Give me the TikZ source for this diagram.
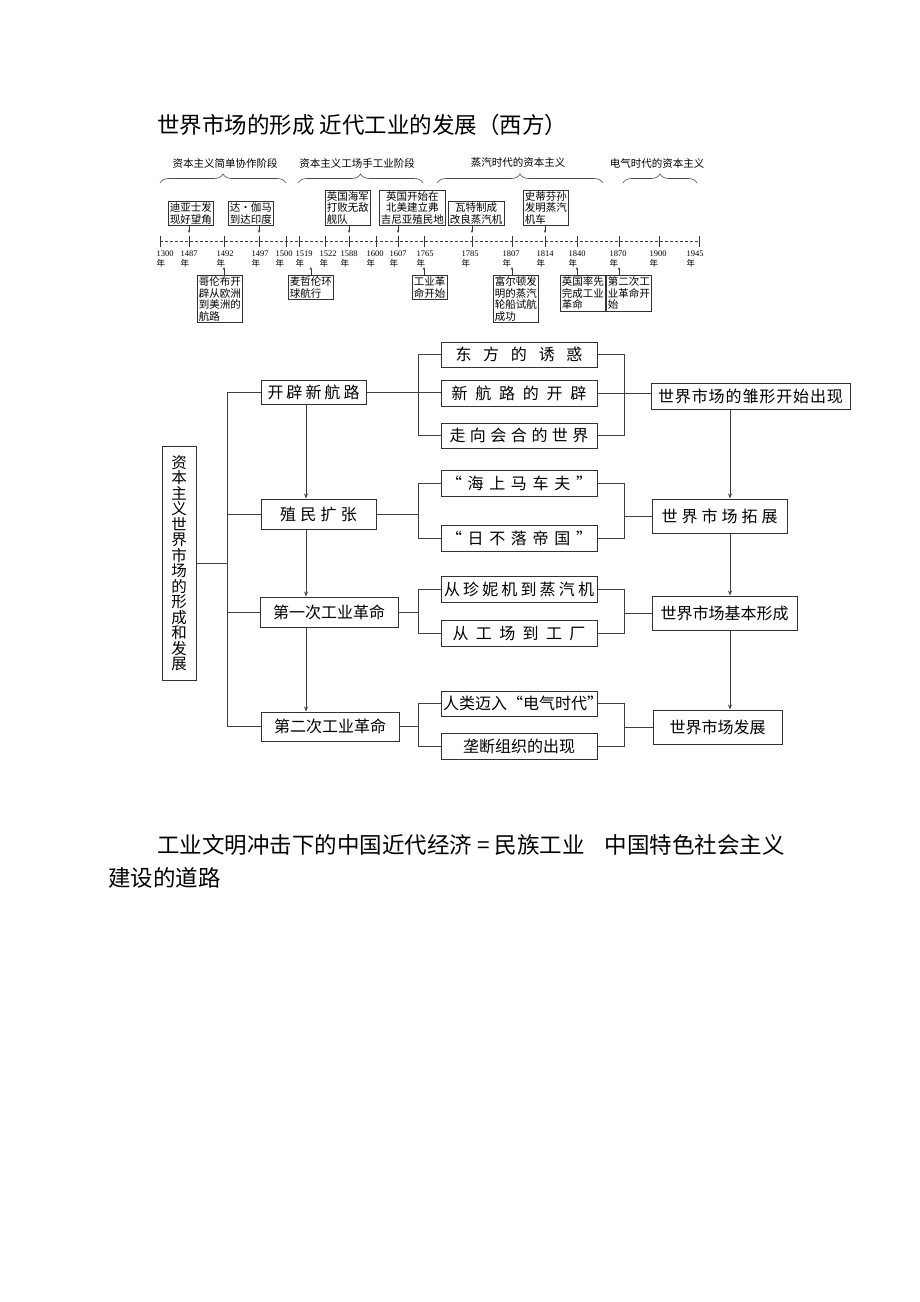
\documentclass[tikz,border=0pt]{standalone}
\usepackage{fontspec}
\setmainfont{Noto Sans CJK SC}
\newfontfamily\yearfont{Liberation Serif}
\usetikzlibrary{arrows.meta, decorations.pathreplacing}

\newcommand{\spreadtext}[2]{\makebox[#1][s]{#2}}

\tikzset{
    bodytext/.style={anchor=west, inner sep=0pt, font=\fontsize{22.5}{27}\selectfont},
    stagelbl/.style={inner sep=0pt, font=\fontsize{10.5}{12}\selectfont},
    stagebrace/.style={draw=black!70, line width=0.6pt, decorate, decoration={brace, amplitude=9pt}},
    yearlbl/.style={anchor=north, align=left, inner sep=0pt, font=\fontsize{8.5}{9.5}\selectfont},
    tlbox/.style={draw=black!80, line width=0.6pt, inner xsep=1.5pt, inner ysep=1.5pt, align=left, font=\fontsize{10.5}{11.5}\selectfont},
    tlarrow/.style={draw=black!80, line width=0.5pt, -{Stealth[length=3pt,width=2.4pt]}},
    mapbox/.style={draw=black!80, line width=1pt, inner sep=0pt, font=\fontsize{16}{18}\selectfont},
    link/.style={draw=black!75, line width=0.9pt},
    flowarrow/.style={link, -{Stealth[length=5pt,width=4pt]}},
}

\begin{document}
\begin{tikzpicture}[x=1pt, y=-1pt]
    \useasboundingbox (0,0) rectangle (920,1302);

    % Heading
    \node[bodytext] (heading) at (157,125) {世界市场的形成 近代工业的发展（西方）};

    % Stages above the time line
    \draw[stagebrace] (160,183) -- (286,183);
    \draw[stagebrace] (298,183) -- (423,183);
    \draw[stagebrace] (437,183) -- (603,183);
    \draw[stagebrace] (623,183) -- (697,183);
    \node[stagelbl] (stage1) at (225,163) {资本主义简单协作阶段};
    \node[stagelbl] (stage2) at (357,163) {资本主义工场手工业阶段};
    \node[stagelbl] (stage3) at (518,163) {蒸汽时代的资本主义};
    \node[stagelbl] (stage4) at (657,163) {电气时代的资本主义};

    % Time line
    \coordinate (axis) at (0,241);
    \coordinate (tlstart) at (160,241);
    \coordinate (tlend) at (699,241);
    \draw[black!75, line width=0.6pt, dash pattern=on 3pt off 2pt] (tlstart) -- (tlend);
    \foreach \x/\lx/\yr in {160/165/1300, 189/189/1487, 224/225/1492, 259/260/1497,
                            286/284/1500, 299/304/1519, 325/328/1522, 349/349/1588,
                            376/375/1600, 398/398/1607, 424/425/1765, 472/470/1785,
                            512/511/1807, 545/545/1814, 577/577/1840, 619/618/1870,
                            659/658/1900, 699/695/1945} {
        \coordinate (t\yr) at (\x,241);
        \draw[black!80, line width=0.6pt] (\x,236) -- (\x,247);
        \node[yearlbl] (y\yr) at (\lx,251) {{\yearfont\yr}\\年};
    }

    % Events above
    \node[tlbox, anchor=south west] (dias) at (168,226) {迪亚士发\\现好望角};
    \node[tlbox, anchor=south west] (gama) at (228,226) {达·伽马\\到达印度};
    \node[tlbox, anchor=south west] (armada) at (325,226) {英国海军\\打败无敌\\舰队};
    \node[tlbox, anchor=south west, align=center] (virginia) at (379,226) {英国开始在\\北美建立弗\\吉尼亚殖民地};
    \node[tlbox, anchor=south west, align=center] (watt) at (448,226) {瓦特制成\\改良蒸汽机};
    \node[tlbox, anchor=south west] (stephenson) at (523,226) {史蒂芬孙\\发明蒸汽\\机车};

    % Events below
    \node[tlbox, anchor=north west] (columbus) at (197,275) {哥伦布开\\辟从欧洲\\到美洲的\\航路};
    \node[tlbox, anchor=north west] (magellan) at (288,275) {麦哲伦环\\球航行};
    \node[tlbox, anchor=north west] (indrev) at (412,275) {工业革\\命开始};
    \node[tlbox, anchor=north west] (fulton) at (493,275) {富尔顿发\\明的蒸汽\\轮船试航\\成功};
    \node[tlbox, anchor=north west] (britain) at (560,275) {英国率先\\完成工业\\革命};
    \node[tlbox, anchor=north west] (secondrev) at (606,275) {第二次工\\业革命开\\始};

    \foreach \b/\yr in {dias/1487, gama/1497, armada/1588, virginia/1607, watt/1785, stephenson/1814}
        \draw[tlarrow, shorten >=8pt] (\b.south -| t\yr) -- (t\yr);
    \foreach \b/\yr in {columbus/1492, indrev/1765, fulton/1807, britain/1840, secondrev/1870}
        \draw[tlarrow, shorten >=26pt] (\b.north -| t\yr) -- (t\yr);
    \draw[tlarrow, shorten >=26pt] (magellan.north) -- (magellan.north |- axis);

    % Structure chart
    \node[mapbox, minimum width=34pt, minimum height=234pt, align=center,
          font=\fontsize{15.5}{15.5}\selectfont] (core) at (179,563)
          {资\\本\\主\\义\\世\\界\\市\\场\\的\\形\\成\\和\\发\\展};

    \node[mapbox, minimum width=105pt, minimum height=24pt] (kaipi) at (313.5,392) {\spreadtext{92pt}{开\hfill 辟\hfill 新\hfill 航\hfill 路}};
    \node[mapbox, minimum width=115pt, minimum height=30pt] (zhimin) at (318.5,514) {\spreadtext{77pt}{殖\hfill 民\hfill 扩\hfill 张}};
    \node[mapbox, minimum width=138pt, minimum height=30pt] (diyi) at (329,612) {第一次工业革命};
    \node[mapbox, minimum width=138pt, minimum height=29pt] (erci) at (330,726.5) {第二次工业革命};

    \node[mapbox, minimum width=156pt, minimum height=25pt] (dongfang) at (519,354.5) {\spreadtext{127pt}{东\hfill 方\hfill 的\hfill 诱\hfill 惑}};
    \node[mapbox, minimum width=156pt, minimum height=26pt] (xinhanglu) at (519,393) {\spreadtext{135pt}{新\hfill 航\hfill 路\hfill 的\hfill 开\hfill 辟}};
    \node[mapbox, minimum width=156pt, minimum height=25pt] (huihe) at (519,435.5) {\spreadtext{139pt}{走\hfill 向\hfill 会\hfill 合\hfill 的\hfill 世\hfill 界}};
    \node[mapbox, minimum width=156pt, minimum height=26pt] (haishang) at (519,483) {\spreadtext{146pt}{“\hfill 海\hfill 上\hfill 马\hfill 车\hfill 夫\hfill ”}};
    \node[mapbox, minimum width=156pt, minimum height=26pt] (riluo) at (519,538) {\spreadtext{146pt}{“\hfill 日\hfill 不\hfill 落\hfill 帝\hfill 国\hfill ”}};
    \node[mapbox, minimum width=156pt, minimum height=26pt] (zhenni) at (519,589) {\spreadtext{150pt}{从\hfill 珍\hfill 妮\hfill 机\hfill 到\hfill 蒸\hfill 汽\hfill 机}};
    \node[mapbox, minimum width=156pt, minimum height=26pt] (gongchang) at (519,633) {\spreadtext{133pt}{从\hfill 工\hfill 场\hfill 到\hfill 工\hfill 厂}};
    \node[mapbox, minimum width=156pt, minimum height=25pt] (dianqi) at (519,703.5) {\spreadtext{152pt}{人\hfill 类\hfill 迈\hfill 入\hfill “电\hfill 气\hfill 时\hfill 代”}};
    \node[mapbox, minimum width=156pt, minimum height=26pt] (longduan) at (519,746) {垄断组织的出现};

    \node[mapbox, minimum width=199pt, minimum height=26pt] (chuxing) at (750.5,396) {\spreadtext{185pt}{世\hfill 界\hfill 市\hfill 场\hfill 的\hfill 雏\hfill 形\hfill 开\hfill 始\hfill 出\hfill 现}};
    \node[mapbox, minimum width=135pt, minimum height=34pt] (tuozhan) at (719.5,516) {\spreadtext{116pt}{世\hfill 界\hfill 市\hfill 场\hfill 拓\hfill 展}};
    \node[mapbox, minimum width=145pt, minimum height=34pt] (jiben) at (724.5,613) {世界市场基本形成};
    \node[mapbox, minimum width=129pt, minimum height=34pt] (fazhan) at (717.5,727) {世界市场发展};

    \coordinate (trunkx) at (227,0);
    \coordinate (lbx) at (418,0);
    \coordinate (rbx) at (624,0);
    \coordinate (larrx) at (306,0);
    \coordinate (rarrx) at (730,0);

    % Trunk on the left
    \draw[link] (kaipi.west) -- (kaipi.west -| trunkx) -- (erci.west -| trunkx) -- (erci.west);
    \draw[link] (zhimin.west) -- (zhimin.west -| trunkx);
    \draw[link] (diyi.west) -- (diyi.west -| trunkx);
    \draw[link] (core.east) -- (core.east -| trunkx);

    % Down arrows
    \draw[flowarrow] (kaipi.south -| larrx) -- (zhimin.north -| larrx);
    \draw[flowarrow] (zhimin.south -| larrx) -- (diyi.north -| larrx);
    \draw[flowarrow] (diyi.south -| larrx) -- (erci.north -| larrx);
    \draw[flowarrow] (chuxing.south -| rarrx) -- (tuozhan.north -| rarrx);
    \draw[flowarrow] (tuozhan.south -| rarrx) -- (jiben.north -| rarrx);
    \draw[flowarrow] (jiben.south -| rarrx) -- (fazhan.north -| rarrx);

    % Brackets, first group
    \draw[link] (dongfang.west) -- (dongfang.west -| lbx) -- (huihe.west -| lbx) -- (huihe.west);
    \draw[link] (kaipi.east) -- (kaipi.east -| xinhanglu.west);
    \draw[link] (dongfang.east) -- (dongfang.east -| rbx) -- (huihe.east -| rbx) -- (huihe.east);
    \draw[link] (xinhanglu.east) -- (xinhanglu.east -| chuxing.west);

    % Brackets, other groups
    \foreach \a/\b/\src/\dst in {haishang/riluo/zhimin/tuozhan, zhenni/gongchang/diyi/jiben, dianqi/longduan/erci/fazhan} {
        \draw[link] (\a.west) -- (\a.west -| lbx) -- (\b.west -| lbx) -- (\b.west);
        \draw[link] (\src.east) -- (\src.east -| lbx);
        \draw[link] (\a.east) -- (\a.east -| rbx) -- (\b.east -| rbx) -- (\b.east);
        \draw[link] (\dst.west -| rbx) -- (\dst.west);
    }

    % Closing lines
    \node[bodytext] (line1) at (157,845) {工业文明冲击下的中国近代经济 = 民族工业\hspace{0.9em}中国特色社会主义};
    \node[bodytext] (line2) at (108,878) {建设的道路};
\end{tikzpicture}
\end{document}
